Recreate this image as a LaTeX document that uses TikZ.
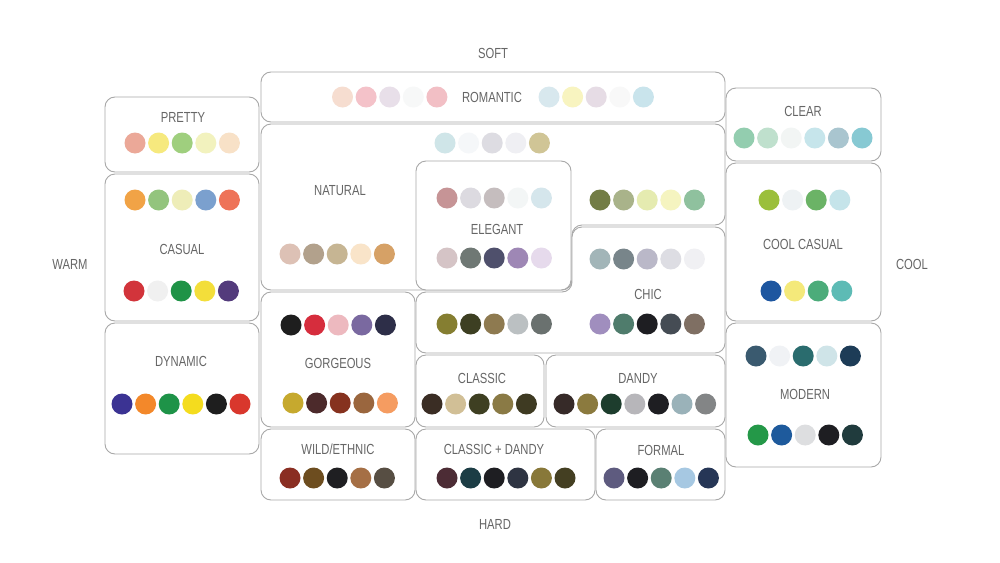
\documentclass[tikz,border=0pt]{standalone}
\usepackage{fontspec}
\setmainfont{Liberation Sans}[FakeStretch=0.77]
\definecolor{linec}{HTML}{A8A8A8}
\definecolor{textc}{HTML}{666666}
\tikzset{
 box/.style={draw=linec, line width=0.9pt, rounded corners=10pt, fill=white, inner sep=0pt, outer sep=0pt},
 lbl/.style={text=textc, font=\fontsize{14.6}{16}\selectfont, inner sep=0pt, text depth=0pt},
 dot/.style={circle, minimum size=21pt, inner sep=0pt, draw=none},
}
\newcommand\bx[5]{\node[box, minimum width={(#4-#2)*1pt}, minimum height={(#5-#3)*1pt}] (#1) at ({(#2+#4)/2},{(#3+#5)/2}) {};}
\newcommand\swrow[4]{\foreach \c [count=\i] in {#4} {\definecolor{swc}{HTML}{\c}\node[dot, fill=swc] (#1-\i) at ({#3+(\i-1)*23.6},#2) {};}}
\begin{document}
\begin{tikzpicture}[x=1pt,y=-1pt]
\path[use as bounding box, fill=white] (0,0) rectangle (1000,562);
% boxes
\bx{romantic}{261}{72}{725}{122}
\bx{pretty}{105}{97}{259}{172}
\bx{casual}{105}{174}{259}{321}
\bx{dynamic}{105}{323}{259}{454}
\draw[box] (400,124) -- (725,124) -- (725,225) -- (572,225) -- (572,290) -- (261,290) -- (261,124) -- cycle;
\bx{elegant}{416}{161}{571}{290}
\draw[box] (650,227) -- (725,227) -- (725,353) -- (416,353) -- (416,292) -- (572,292) -- (572,227) -- cycle;
\bx{clear}{726}{88}{881}{161}
\bx{coolcasual}{726}{163}{881}{321}
\bx{modern}{726}{323}{881}{467}
\bx{gorgeous}{261}{292}{415}{427}
\bx{classic}{416}{355}{544}{427}
\bx{dandy}{546}{355}{725}{427}
\bx{wild}{261}{429}{415}{500}
\bx{classicdandy}{416}{429}{595}{500}
\bx{formal}{596}{429}{725}{500}
% axis labels
\node[lbl] (soft) at (493,53) {SOFT};
\node[lbl] (hard) at (495,524) {HARD};
\node[lbl] (warm) at (70,264) {WARM};
\node[lbl] (cool) at (912,264) {COOL};
% box labels
\node[lbl] (tromantic) at (492,97) {ROMANTIC};
\node[lbl] (tpretty) at (183,117) {PRETTY};
\node[lbl] (tcasual) at (182,249) {CASUAL};
\node[lbl] (tdynamic) at (181,361) {DYNAMIC};
\node[lbl] (tnatural) at (340,190) {NATURAL};
\node[lbl] (telegant) at (497,229) {ELEGANT};
\node[lbl] (tchic) at (648,294) {CHIC};
\node[lbl] (tclear) at (803,111) {CLEAR};
\node[lbl] (tcoolcasual) at (803,244) {COOL CASUAL};
\node[lbl] (tmodern) at (805,394) {MODERN};
\node[lbl] (tgorgeous) at (338,363) {GORGEOUS};
\node[lbl] (tclassic) at (482,378) {CLASSIC};
\node[lbl] (tdandy) at (638,378) {DANDY};
\node[lbl] (twild) at (338,449) {WILD/ETHNIC};
\node[lbl] (tclassicdandy) at (494,449) {CLASSIC + DANDY};
\node[lbl] (tformal) at (661,450) {FORMAL};
% swatches
\swrow{rom-l}{97}{342.5}{F6DDD0,F4C2C9,E8DFE9,F7F8F8,F2BFC5}
\swrow{rom-r}{97}{549}{D8E8EE,F8F4C0,E6DCE5,F8F8F8,C9E4EC}
\swrow{pre}{143}{135}{EBA898,F6E97E,9FCF7E,F2F2BE,F8E1C7}
\swrow{cas-t}{200}{135}{F1A346,93C47D,EEEDB8,7BA0CE,EE7358}
\swrow{cas-b}{291}{134}{D2343B,F0F0F0,1F9347,F3DE3A,533B7C}
\swrow{dyn}{404}{122}{3B3393,F3882A,1E9348,F4DC1E,1E1E1E,D9372D}
\swrow{nat-t}{143}{445}{CFE5E8,F5F7F9,DDDCE2,EFEFF3,D0C596}
\swrow{nat-b}{254}{290}{DDC1B5,B2A18C,C6B593,F9E4C9,D6A166}
\swrow{nat-r}{200}{600}{737D45,A9B38A,E5EBB0,F5F4C0,8FC19E}
\swrow{ele-t}{198}{447}{C69496,DCDAE0,C5BDBE,F3F6F6,D5E6EC}
\swrow{ele-b}{258}{447}{D5C4C6,6F7874,4F506C,9E87B5,E6DAEC}
\swrow{chi-t}{259}{600}{A2B5B8,78858A,BAB8C8,DDDDE3,F0F0F3}
\swrow{chi-l}{324}{447}{857E31,3D3F22,8E7A50,BBC0C2,6A716F}
\swrow{chi-r}{324}{600}{A08EBE,4F7C6C,1E1E22,454C54,7F6F63}
\swrow{cle}{138}{744}{93CDAF,BFE0CD,F2F5F4,C6E5EB,A9C5CF,87C9D3}
\swrow{coo-t}{200}{769}{9BBF3B,EEF2F4,6BB366,C5E4EA}
\swrow{coo-b}{291}{771}{1D56A0,F4E97A,4CAC7A,5DBBB5}
\swrow{mod-t}{356}{756}{3A5A6F,F0F2F5,2A6C6E,CFE4E8,1D3C57}
\swrow{mod-b}{435}{758}{249848,1E5A9C,DDDEE0,1E1E22,203B3D}
\swrow{gor-t}{325}{291}{1E1E1E,D62D3D,EDB9BF,7A69A0,2D2E48}
\swrow{gor-b}{403}{293}{C6A92E,4C2A2B,86321F,9A663E,F59C61}
\swrow{cla}{404}{432}{3A2D24,D1BF96,3E3F22,8A7A45,3E3A22}
\swrow{dan}{404}{564}{362A28,8B7A3E,1D3D2D,B7B6BA,1E1E22,9AB2B9,838586}
\swrow{wil}{478}{290}{8A2E22,6D4D1F,1F1F22,A56F45,574E43}
\swrow{cld}{478}{447}{4C2C35,1C3D45,1E1E22,2E3442,887839,443F22}
\swrow{for}{478}{614}{5E5B7F,1E1E22,5A8073,A6C8E2,263656}
\end{tikzpicture}
\end{document}
